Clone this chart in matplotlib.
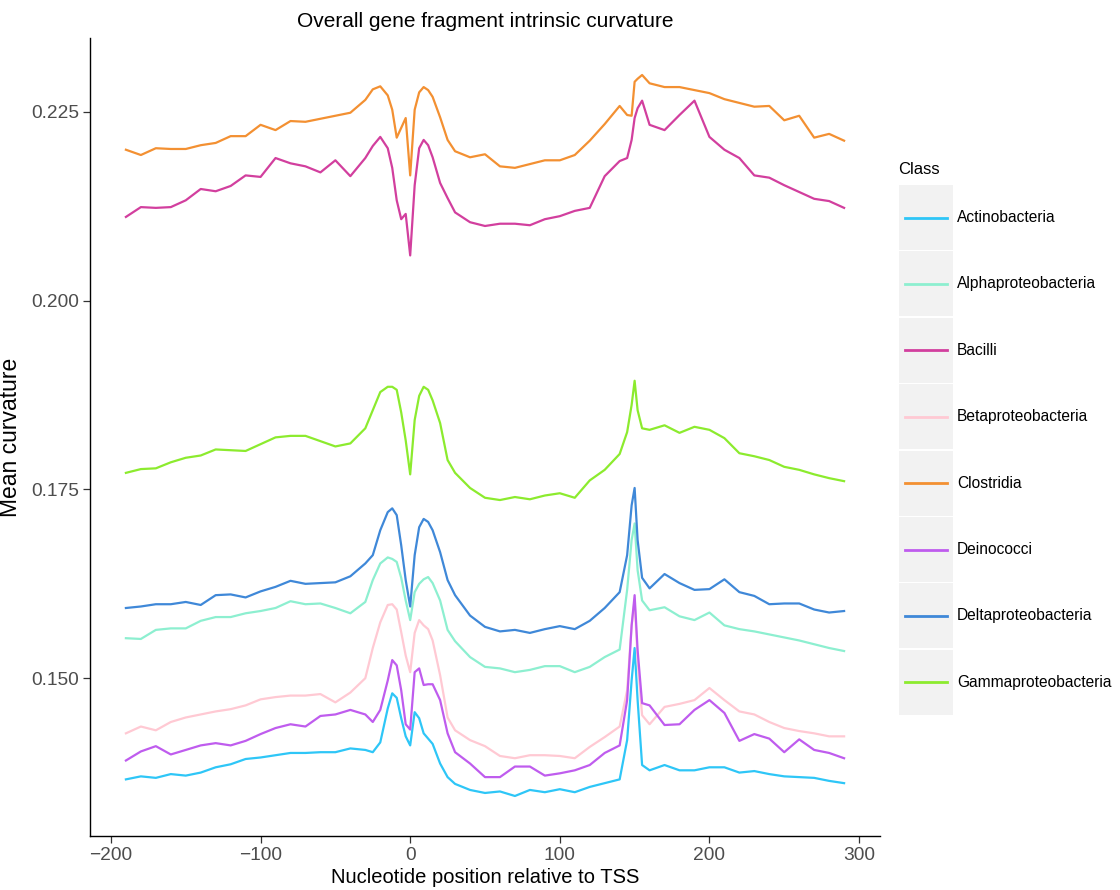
import matplotlib

matplotlib.use("Agg")
import matplotlib.pyplot as plt  # noqa: E402
from matplotlib.lines import Line2D  # noqa: E402
from matplotlib.patches import Rectangle  # noqa: E402

plt.rcParams["font.family"] = ["Liberation Sans", "DejaVu Sans"]

# nucleotide positions relative to the TSS
positions = [
    -190, -180, -170, -160, -150, -140, -130, -120, -110, -100,
    -90, -80, -70, -60, -50, -40,
    -30, -25, -20, -15, -12, -9, -6, -3, 0,
    3, 6, 9, 12, 15, 20, 25, 30,
    40, 50, 60, 70, 80, 90, 100, 110, 120, 130, 140,
    145, 148, 150, 152, 155,
    160, 170, 180, 190, 200, 210, 220, 230, 240, 250, 260, 270, 280, 290,
]

actinobacteria = [
    0.1366, 0.1370, 0.1368, 0.1373, 0.1371, 0.1375, 0.1382, 0.1386, 0.1393, 0.1395,
    0.1398, 0.1401, 0.1401, 0.1402, 0.1402, 0.1407,
    0.1405, 0.1402, 0.1415, 0.1460, 0.1480, 0.1474, 0.1447, 0.1423, 0.1411,
    0.1455, 0.1447, 0.1427, 0.1420, 0.1413, 0.1387, 0.1369, 0.1360,
    0.1352, 0.1348, 0.1350, 0.1344, 0.1352, 0.1349, 0.1353, 0.1349, 0.1356, 0.1361, 0.1366,
    0.1418, 0.1497, 0.1540, 0.1471, 0.1385,
    0.1378, 0.1385, 0.1378, 0.1378, 0.1382, 0.1382, 0.1375, 0.1377, 0.1373, 0.1370,
    0.1369, 0.1368, 0.1364, 0.1361,
]
alphaproteobacteria = [
    0.1553, 0.1552, 0.1564, 0.1566, 0.1566, 0.1576, 0.1581, 0.1581, 0.1586, 0.1589,
    0.1593, 0.1602, 0.1598, 0.1599, 0.1593, 0.1586,
    0.1601, 0.1630, 0.1652, 0.1660, 0.1658, 0.1654, 0.1633, 0.1603, 0.1577,
    0.1614, 0.1625, 0.1631, 0.1634, 0.1626, 0.1603, 0.1564, 0.1549,
    0.1528, 0.1515, 0.1513, 0.1508, 0.1511, 0.1516, 0.1516, 0.1508, 0.1515, 0.1528, 0.1538,
    0.1617, 0.1683, 0.1705, 0.1643, 0.1603,
    0.1590, 0.1594, 0.1582, 0.1577, 0.1587, 0.1570, 0.1565, 0.1562, 0.1558, 0.1554,
    0.1550, 0.1545, 0.1540, 0.1536,
]
bacilli = [
    0.2111, 0.2124, 0.2123, 0.2124, 0.2133, 0.2148, 0.2145, 0.2152, 0.2166, 0.2164,
    0.2189, 0.2182, 0.2178, 0.2170, 0.2186, 0.2165,
    0.2189, 0.2205, 0.2217, 0.2202, 0.2176, 0.2133, 0.2108, 0.2115, 0.2060,
    0.2153, 0.2202, 0.2213, 0.2206, 0.2190, 0.2156, 0.2136, 0.2117,
    0.2104, 0.2099, 0.2102, 0.2102, 0.2100, 0.2108, 0.2112, 0.2119, 0.2123, 0.2165, 0.2185,
    0.2189, 0.2213, 0.2242, 0.2255, 0.2265,
    0.2233, 0.2226, 0.2246, 0.2265, 0.2217, 0.2200, 0.2189, 0.2166, 0.2163, 0.2153,
    0.2144, 0.2135, 0.2132, 0.2123,
]
betaproteobacteria = [
    0.1427, 0.1436, 0.1431, 0.1442, 0.1448, 0.1452, 0.1456, 0.1459, 0.1464, 0.1472,
    0.1475, 0.1477, 0.1477, 0.1479, 0.1468, 0.1481,
    0.1500, 0.1540, 0.1574, 0.1597, 0.1598, 0.1591, 0.1561, 0.1530, 0.1508,
    0.1560, 0.1577, 0.1570, 0.1565, 0.1550, 0.1504, 0.1448, 0.1431,
    0.1418, 0.1410, 0.1397, 0.1394, 0.1398, 0.1398, 0.1397, 0.1394, 0.1409, 0.1422, 0.1436,
    0.1484, 0.1570, 0.1603, 0.1524, 0.1451,
    0.1439, 0.1462, 0.1466, 0.1471, 0.1487, 0.1471, 0.1456, 0.1452, 0.1442, 0.1434,
    0.1430, 0.1427, 0.1423, 0.1423,
]
clostridia = [
    0.2200, 0.2193, 0.2202, 0.2201, 0.2201, 0.2206, 0.2209, 0.2218, 0.2218, 0.2233,
    0.2226, 0.2238, 0.2237, 0.2241, 0.2245, 0.2249,
    0.2266, 0.2280, 0.2284, 0.2272, 0.2253, 0.2216, 0.2229, 0.2242, 0.2166,
    0.2253, 0.2276, 0.2283, 0.2279, 0.2270, 0.2243, 0.2213, 0.2198,
    0.2190, 0.2194, 0.2178, 0.2176, 0.2181, 0.2186, 0.2186, 0.2193, 0.2212, 0.2234, 0.2258,
    0.2246, 0.2245, 0.2290, 0.2294, 0.2299,
    0.2288, 0.2283, 0.2283, 0.2279, 0.2275, 0.2267, 0.2262, 0.2257, 0.2258, 0.2239,
    0.2245, 0.2216, 0.2221, 0.2212,
]
deinococci = [
    0.1391, 0.1403, 0.1410, 0.1399, 0.1405, 0.1411, 0.1414, 0.1411, 0.1417, 0.1426,
    0.1434, 0.1439, 0.1436, 0.1450, 0.1452, 0.1458,
    0.1452, 0.1442, 0.1458, 0.1497, 0.1524, 0.1517, 0.1484, 0.1439, 0.1432,
    0.1508, 0.1513, 0.1491, 0.1492, 0.1492, 0.1471, 0.1427, 0.1402,
    0.1387, 0.1369, 0.1369, 0.1383, 0.1383, 0.1371, 0.1374, 0.1378, 0.1385, 0.1401, 0.1411,
    0.1471, 0.1570, 0.1610, 0.1537, 0.1467,
    0.1464, 0.1438, 0.1439, 0.1458, 0.1471, 0.1454, 0.1417, 0.1426, 0.1420, 0.1402,
    0.1419, 0.1405, 0.1401, 0.1394,
]
deltaproteobacteria = [
    0.1593, 0.1595, 0.1598, 0.1598, 0.1601, 0.1597, 0.1610, 0.1611, 0.1607, 0.1615,
    0.1621, 0.1629, 0.1625, 0.1626, 0.1627, 0.1635,
    0.1652, 0.1663, 0.1696, 0.1720, 0.1725, 0.1716, 0.1676, 0.1630, 0.1595,
    0.1663, 0.1700, 0.1711, 0.1707, 0.1696, 0.1667, 0.1630, 0.1610,
    0.1583, 0.1568, 0.1562, 0.1564, 0.1560, 0.1565, 0.1569, 0.1565, 0.1576, 0.1593, 0.1614,
    0.1663, 0.1729, 0.1752, 0.1683, 0.1633,
    0.1619, 0.1638, 0.1626, 0.1617, 0.1618, 0.1631, 0.1614, 0.1609, 0.1598, 0.1599,
    0.1599, 0.1591, 0.1587, 0.1589,
]
gammaproteobacteria = [
    0.1772, 0.1777, 0.1778, 0.1786, 0.1792, 0.1795, 0.1803, 0.1802, 0.1801, 0.1810,
    0.1819, 0.1821, 0.1821, 0.1814, 0.1807, 0.1811,
    0.1831, 0.1855, 0.1879, 0.1886, 0.1886, 0.1882, 0.1852, 0.1815, 0.1770,
    0.1842, 0.1874, 0.1886, 0.1882, 0.1868, 0.1838, 0.1789, 0.1772,
    0.1752, 0.1739, 0.1736, 0.1740, 0.1737, 0.1742, 0.1745, 0.1739, 0.1762, 0.1776, 0.1797,
    0.1826, 0.1862, 0.1894, 0.1855, 0.1831,
    0.1829, 0.1835, 0.1825, 0.1833, 0.1829, 0.1818, 0.1798, 0.1794, 0.1789, 0.1780,
    0.1776, 0.1770, 0.1765, 0.1761,
]

class_names = [
    "Actinobacteria", "Alphaproteobacteria", "Bacilli", "Betaproteobacteria",
    "Clostridia", "Deinococci", "Deltaproteobacteria", "Gammaproteobacteria",
]
class_values = [
    actinobacteria, alphaproteobacteria, bacilli, betaproteobacteria,
    clostridia, deinococci, deltaproteobacteria, gammaproteobacteria,
]
class_colors = [
    "#2EC6F7", "#8DEFD0", "#D23F9E", "#FFC9D3",
    "#F39032", "#BF5CEE", "#3F88D8", "#8CEB2E",
]

x_ticks = [-200, -100, 0, 100, 200, 300]
y_ticks = [0.150, 0.175, 0.200, 0.225]

W, H = 1120, 890
fig = plt.figure(figsize=(W / 100, H / 100), dpi=100)
ax = fig.add_axes([90 / W, 54 / H, 790 / W, 798 / H])

for name, values, color in zip(class_names, class_values, class_colors):
    ax.plot(positions, values, color=color, linewidth=1.6, label=name,
            solid_joinstyle="round")

ax.set_xlim(-214, 314)
ax.set_ylim(0.1291, 0.2348)
ax.set_xticks(x_ticks)
ax.set_yticks(y_ticks)
ax.set_yticklabels([f"{v:.3f}" for v in y_ticks])
for side in ("top", "right"):
    ax.spines[side].set_visible(False)
for side in ("left", "bottom"):
    ax.spines[side].set_color("black")
    ax.spines[side].set_linewidth(1.0)
ax.tick_params(axis="both", direction="out", length=5, width=0.9,
               color="#333333", labelcolor="#4D4D4D", labelsize=13.8, pad=3)

ax.set_xlabel("Nucleotide position relative to TSS", fontsize=14.5, labelpad=3)
ax.set_ylabel("Mean curvature", fontsize=16.5)
ax.yaxis.set_label_coords(-68 / 790, 0.5)
ax.set_title("Overall gene fragment intrinsic curvature", fontsize=15, pad=8)

# legend drawn as ggplot-style keys with grey backgrounds
fig.text(898 / W, 1 - 170 / H, "Class", fontsize=12, va="center", ha="left")
for i, (name, color) in enumerate(zip(class_names, class_colors)):
    top = 185 + 66.4 * i
    fig.patches.append(Rectangle((899 / W, 1 - (top + 65) / H), 54 / W, 65 / H,
                                 facecolor="#F2F2F2", edgecolor="none",
                                 transform=fig.transFigure))
    cy = 1 - (top + 32.5) / H
    fig.lines.append(Line2D([905 / W, 947 / W], [cy, cy], color=color,
                            linewidth=2.0, transform=fig.transFigure))
    fig.text(957 / W, cy, name, fontsize=11.2, va="center", ha="left")

fig.savefig("out.png", dpi=100)
plt.close(fig)
